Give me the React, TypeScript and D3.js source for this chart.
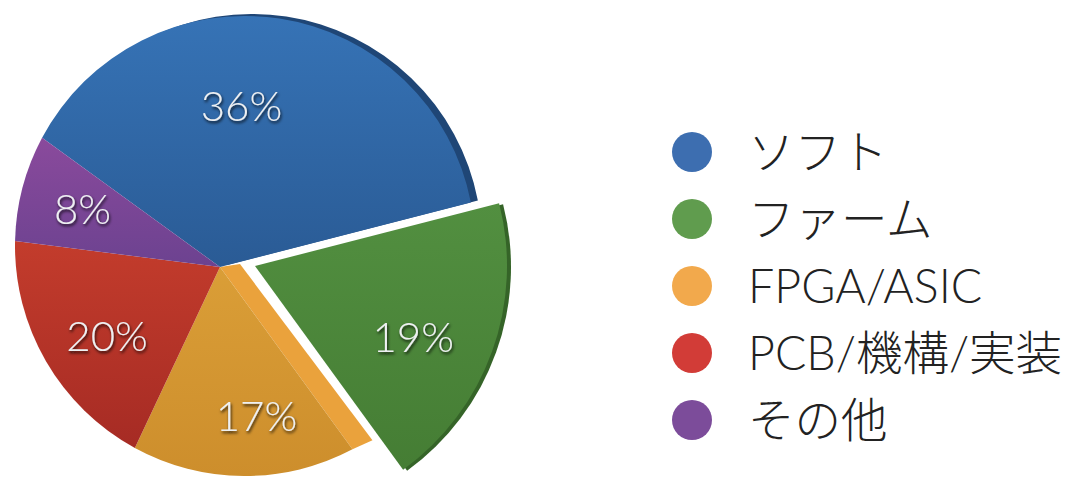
import React from "react";
import * as d3 from "d3";

const categories = ["ソフト", "ファーム", "FPGA/ASIC", "PCB/機構/実装", "その他"];
const values = [36, 19, 17, 20, 8];
const labels = ["36%", "19%", "17%", "20%", "8%"];
const exploded = [false, true, false, false, false];
const sliceTop = ["#3673b6", "#528f40", "#da9e37", "#c33c2c", "#8a4a9c"];
const sliceBottom = ["#2a5b95", "#457d34", "#cd8e2c", "#a62b24", "#6c4290"];
const sliceEdge = ["#1f4676", "#356428", "#eaa23c", "#8a2420", "#5a3575"];
const legendColors = ["#3d6eb0", "#609c4e", "#f2a94c", "#d23c37", "#7c4c9a"];
// small layout nudges for the percentage labels (pixels)
const labelNudge: [number, number][] = [[-11, 8], [-3, 12], [23, 6], [5, 3], [-3, -6]];

const W = 1070;
const H = 478;
const apex = { x: 220, y: 267 };
const center = { x: 245, y: 246 };
const R = 230;
const exApex = { x: 255, y: 266 };
const exR = 252;

function rayHit(ax: number, ay: number, cx: number, cy: number, r: number, ang: number) {
  const dx = Math.sin(ang), dy = -Math.cos(ang);
  const fx = ax - cx, fy = ay - cy;
  const b = fx * dx + fy * dy;
  const c = fx * fx + fy * fy - r * r;
  const t = -b + Math.sqrt(b * b - c);
  return { x: ax + t * dx, y: ay + t * dy, t };
}

function slicePath(ax: number, ay: number, cx: number, cy: number, r: number, a0: number, a1: number) {
  const p0 = rayHit(ax, ay, cx, cy, r, a0);
  const p1 = rayHit(ax, ay, cx, cy, r, a1);
  const phi0 = Math.atan2(p0.y - cy, p0.x - cx);
  let phi1 = Math.atan2(p1.y - cy, p1.x - cx);
  while (phi1 < phi0) phi1 += 2 * Math.PI;
  const p = d3.path();
  p.moveTo(ax, ay);
  p.lineTo(p0.x, p0.y);
  p.arc(cx, cy, r, phi0, phi1, false);
  p.closePath();
  return p.toString();
}

export default function App() {
  const pie = d3
    .pie<number>()
    .sort(null)
    .value((d) => d)
    .startAngle((-54 * Math.PI) / 180)
    .endAngle((-54 * Math.PI) / 180 + 2 * Math.PI);
  const arcs = pie(values);

  const geo = arcs.map((a, i) => {
    if (exploded[i]) {
      return { ax: exApex.x, ay: exApex.y, cx: exApex.x, cy: exApex.y, r: exR };
    }
    return { ax: apex.x, ay: apex.y, cx: center.x, cy: center.y, r: R };
  });

  const legendY = d3.scalePoint<number>().domain(d3.range(categories.length)).range([152, 420]);

  const orangeIdx = 2;
  const oa = arcs[orangeIdx];
  const oEnd = rayHit(apex.x, apex.y, center.x, center.y, R, oa.startAngle);

  return (
    <svg width={W} height={H} style={{ position: "absolute", left: 0, top: 0, background: "#fff" }}>
      <defs>
        {arcs.map((_, i) => (
          <linearGradient key={i} id={`g${i}`} x1="0" y1="0" x2="0" y2="1">
            <stop offset="0%" stopColor={sliceTop[i]} />
            <stop offset="100%" stopColor={sliceBottom[i]} />
          </linearGradient>
        ))}
        <filter id="ts" x="-20%" y="-20%" width="140%" height="150%">
          <feDropShadow dx="1" dy="2" stdDeviation="1.4" floodColor="#111" floodOpacity="0.85" />
        </filter>
      </defs>

      <path
        d={slicePath(geo[0].ax, geo[0].ay, geo[0].cx, geo[0].cy, geo[0].r, arcs[0].startAngle, arcs[0].endAngle)}
        transform="translate(7,-2)"
        fill={sliceEdge[0]}
      />
      <path
        d={`M${apex.x},${apex.y}L${oEnd.x},${oEnd.y}L${oEnd.x + 20},${oEnd.y - 9}L${apex.x + 20},${apex.y - 3}Z`}
        fill={sliceEdge[2]}
      />
      <path
        d={slicePath(geo[1].ax, geo[1].ay, geo[1].cx, geo[1].cy, geo[1].r, arcs[1].startAngle, arcs[1].endAngle)}
        transform="translate(4,1)"
        fill={sliceEdge[1]}
      />

      {arcs.map((a, i) => {
        const g = geo[i];
        return (
          <path
            key={i}
            d={slicePath(g.ax, g.ay, g.cx, g.cy, g.r, a.startAngle, a.endAngle)}
            fill={`url(#g${i})`}
          />
        );
      })}

      {arcs.map((a, i) => {
        const g = geo[i];
        const mid = (a.startAngle + a.endAngle) / 2;
        const hit = rayHit(g.ax, g.ay, g.cx, g.cy, g.r, mid);
        const k = 0.68;
        const x = g.ax + k * hit.t * Math.sin(mid) + labelNudge[i][0];
        const y = g.ay - k * hit.t * Math.cos(mid) + labelNudge[i][1];
        return (
          <text
            key={i}
            x={x}
            y={y}
            textAnchor="middle"
            dominantBaseline="central"
            fontFamily="Lato, 'Liberation Sans', sans-serif"
            fontWeight={300}
            fontSize={42}
            fill="#eef0f2"
            filter="url(#ts)"
          >
            {labels[i]}
          </text>
        );
      })}

      {categories.map((c, i) => (
        <g key={c} transform={`translate(692,${legendY(i)})`}>
          <circle r={20} fill={legendColors[i]} />
          <text
            x={56}
            y={17}
            fontFamily="Lato, 'Noto Sans CJK JP', sans-serif"
            fontWeight={300}
            fontSize={46.5}
            fill="#222"
          >
            {c}
          </text>
        </g>
      ))}
    </svg>
  );
}
